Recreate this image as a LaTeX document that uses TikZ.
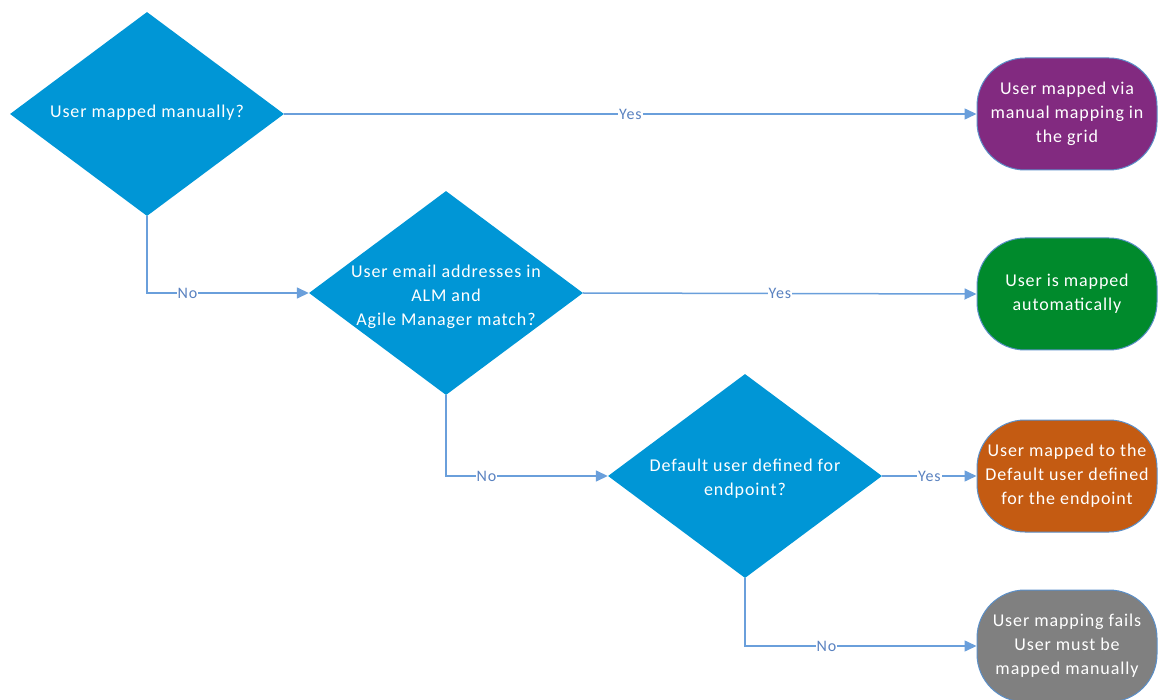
\documentclass[tikz,border=0pt]{standalone}
\usepackage{fontspec}
\setmainfont{Carlito}[LetterSpace=5]
\usetikzlibrary{shapes.geometric,arrows.meta}
\definecolor{diablue}{HTML}{0096D6}
\definecolor{tpurple}{HTML}{822A80}
\definecolor{tgreen}{HTML}{008A2C}
\definecolor{torange}{HTML}{C45B12}
\definecolor{tgray}{HTML}{808080}
\definecolor{lineblue}{HTML}{6A9FDB}
\definecolor{labelblue}{HTML}{5A82C0}
\definecolor{tborder}{HTML}{5B8FC8}
\tikzset{
  dia/.style={diamond, fill=diablue, minimum width=274pt, minimum height=204pt, inner sep=0pt},
  diatext/.style={text=white, align=center, font=\fontsize{18}{24}\selectfont},
  term/.style={rectangle, rounded corners=48pt, draw=tborder, line width=1pt, minimum width=180pt, minimum height=112pt, text=white, align=center, font=\fontsize{18}{24}\selectfont, inner sep=2pt},
  conn/.style={draw=lineblue, line width=1.5pt, -{Triangle[length=12pt,width=11pt]}},
  lbl/.style={fill=white, text=labelblue, inner sep=1pt, font=\fontsize{16}{16}\selectfont}
}
\begin{document}
\begin{tikzpicture}[x=1pt,y=-1pt]
\useasboundingbox (0,0) rectangle (1159,700);
\node[dia] (d1) at (147,114) {};
\node[diatext] (d1t) at (147,113) {User mapped manually?};
\node[dia] (d2) at (446,293) {};
\node[diatext] (d2t) at (446,297) {User email addresses in\\ALM and\\Agile Manager match?};
\node[dia] (d3) at (745,476) {};
\node[diatext] (d3t) at (745,479) {Default user defined for\\endpoint?};
\node[term, fill=tpurple] (t1) at (1067,114) {User mapped via\\manual mapping in\\the grid};
\node[term, fill=tgreen] (t2) at (1067,294) {User is mapped\\automatically};
\node[term, fill=torange] (t3) at (1067,476) {User mapped to the\\Default user defined\\for the endpoint};
\node[term, fill=tgray] (t4) at (1067,646) {User mapping fails\\User must be\\mapped manually};
\draw[conn] (d1.east) -- node[lbl] {Yes} (t1.west);
\draw[conn] (d1.south) |- node[lbl, pos=0.625] {No} (d2.west);
\draw[conn] (d2.east) -- node[lbl] {Yes} (t2.west);
\draw[conn] (d2.south) |- node[lbl, pos=0.625] {No} (d3.west);
\draw[conn] (d3.east) -- node[lbl] {Yes} (t3.west);
\draw[conn] (d3.south) |- node[lbl, pos=0.676] {No} (t4.west);
\end{tikzpicture}
\end{document}
